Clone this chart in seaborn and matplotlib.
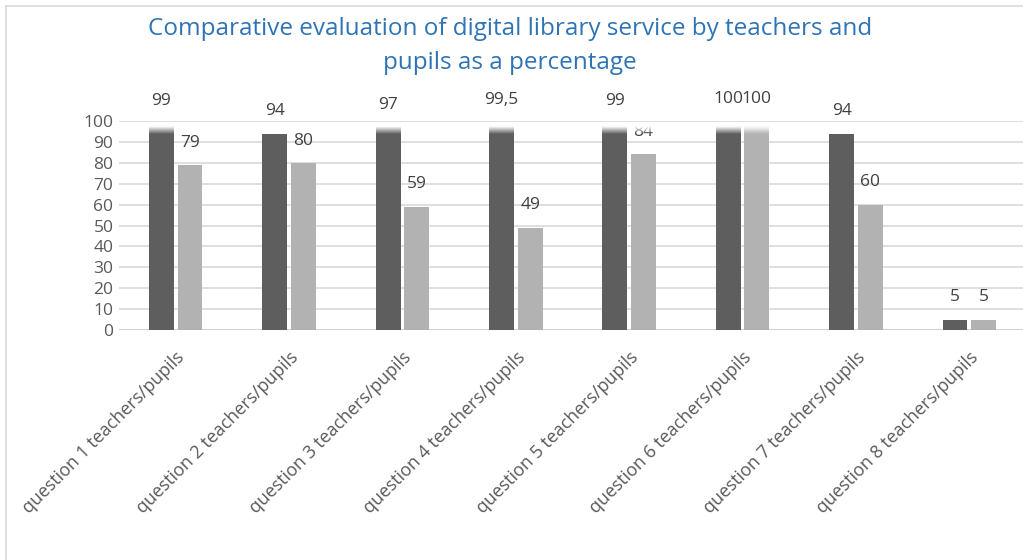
import numpy as np
import pandas as pd
import matplotlib
matplotlib.use("Agg")
import matplotlib.pyplot as plt
import seaborn as sns

categories = [f"question {i} teachers/pupils" for i in range(1, 9)]
teachers = [99, 94, 97, 99.5, 99, 100, 94, 5]
pupils = [79, 80, 59, 49, 84, 100, 60, 5]
teacher_labels = ["99", "94", "97", "99,5", "99", "100", "94", "5"]
pupil_labels = ["79", "80", "59", "49", "84", "100", "60", "5"]
yticks = list(range(0, 101, 10))
title = "Comparative evaluation of digital library service by teachers and\npupils as a percentage"

df = pd.DataFrame({
    "category": categories * 2,
    "value": teachers + pupils,
    "group": ["teachers"] * 8 + ["pupils"] * 8,
    "label": teacher_labels + pupil_labels,
})

sns.set_theme(style="white")
plt.rcParams["font.family"] = ["Open Sans", "DejaVu Sans"]

fig = plt.figure(figsize=(10.23, 5.6), dpi=100)
ax = fig.add_axes([119 / 1023, 1 - 330 / 560, (1026 - 119) / 1023, (330 - 121) / 560])

sns.barplot(data=df, x="category", y="value", hue="group",
            palette={"teachers": "#5E5E5E", "pupils": "#B2B2B2"},
            width=0.505, gap=0.13, legend=False, ax=ax, zorder=2,
            saturation=1, linewidth=0)

ax.set_ylim(0, 100)
ax.set_xlim(-0.5, 7.5)
ax.set_yticks(yticks)
ax.yaxis.grid(True, color="#D9D9D9", linewidth=1.2)
ax.set_axisbelow(True)
for s in ax.spines.values():
    s.set_visible(False)
ax.axhline(0, color="#D0D0D0", linewidth=1.2, zorder=1)
ax.set_xlabel("")
ax.set_ylabel("")
ax.tick_params(axis="y", length=0, pad=4, labelsize=12.5, labelcolor="#595959")
ax.tick_params(axis="x", length=0, pad=13, labelsize=12.9, labelcolor="#595959")
plt.setp(ax.get_xticklabels(), rotation=45, ha="right", va="top", rotation_mode="anchor")

# data labels
labs = teacher_labels + pupil_labels
for patch, lab in zip(ax.patches, labs):
    x = patch.get_x() + patch.get_width() / 2
    h = patch.get_height()
    ax.annotate(lab, (x, h), xytext=(0, 16), textcoords="offset points",
                ha="center", va="center", fontsize=12.5, color="#404040",
                annotation_clip=False, zorder=3)

# soft fade near the top of the plot area
lo, hi = 93.9, 97.4
grad = np.ones((200, 2, 4))
vals = np.linspace(99.8, lo, 200)
grad[:, :, 3] = np.clip((vals - lo) / (hi - lo), 0, 1)[:, None]
ax.imshow(grad, extent=[-0.5, 7.5, lo, 99.8], aspect="auto", zorder=4,
          interpolation="bilinear", origin="upper")
ax.axhline(100, color="#D9D9D9", linewidth=1.2, zorder=5)
ax.set_xlim(-0.5, 7.5)
ax.set_ylim(0, 100)

fig.text(510 / 1023, 1 - 46 / 560, title, ha="center", va="center",
         fontsize=17.5, color="#2E74B5", linespacing=1.6)

# chart border
fig.add_artist(plt.Line2D([6 / 1023, 6 / 1023], [0, 1 - 6 / 560], color="#D9D9D9", lw=1.2))
fig.add_artist(plt.Line2D([6 / 1023, 1], [1 - 6 / 560, 1 - 6 / 560], color="#D9D9D9", lw=1.2))

fig.savefig("out.png", dpi=100)
